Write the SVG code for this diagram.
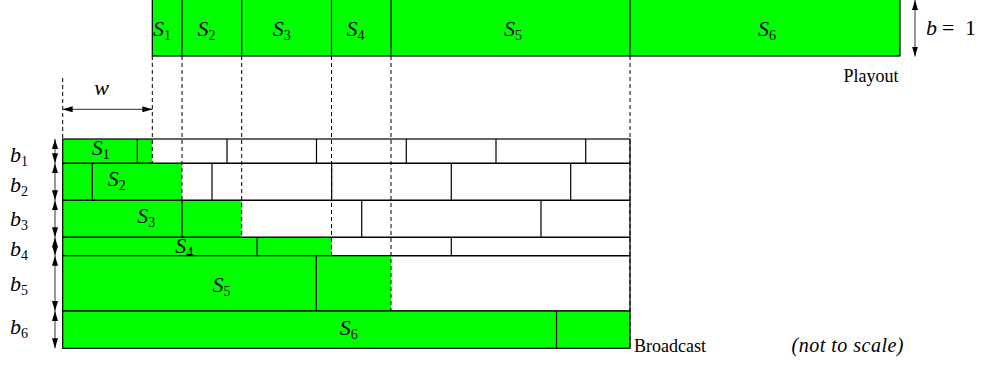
<svg xmlns="http://www.w3.org/2000/svg" width="981" height="366" viewBox="0 0 981 366">
<defs>
<style>
.g{fill:#00ff00;}
.box{fill:none;stroke:#000;stroke-width:1.2;}
.div{stroke:#000;stroke-width:1.2;}
.dash{stroke:#000;stroke-width:1;stroke-dasharray:4 3;fill:none;}
.arr{stroke:#555;stroke-width:1.2;fill:none;marker-start:url(#ah);marker-end:url(#ah);}
.m{font-family:"Liberation Serif","Times New Roman",serif;font-size:22px;font-style:italic;fill:#000;}
.sub{font-style:normal;font-size:14px;}
.t{font-family:"Liberation Serif","Times New Roman",serif;font-size:18px;fill:#000;}
</style>
<marker id="ah" viewBox="0 0 10 6" refX="10" refY="3" markerWidth="10" markerHeight="6" markerUnits="userSpaceOnUse" orient="auto-start-reverse">
<path d="M0,0 L10,3 L0,6 z" fill="#000"/>
</marker>
</defs>

<g id="playout">
<rect class="g" x="152.3" y="-1" width="747.7" height="57"/>
<rect class="box" x="152.3" y="-1" width="747.7" height="57"/>
<line class="div" x1="182" y1="-1" x2="182" y2="56"/>
<line class="div" x1="241.7" y1="-1" x2="241.7" y2="56"/>
<line class="div" x1="331.5" y1="-1" x2="331.5" y2="56"/>
<line class="div" x1="391" y1="-1" x2="391" y2="56"/>
<line class="div" x1="630" y1="-1" x2="630" y2="56"/>
<text class="m" x="162" y="36" text-anchor="middle">S<tspan class="sub" dy="4">1</tspan></text>
<text class="m" x="206.5" y="36" text-anchor="middle">S<tspan class="sub" dy="4">2</tspan></text>
<text class="m" x="281.7" y="36" text-anchor="middle">S<tspan class="sub" dy="4">3</tspan></text>
<text class="m" x="355.5" y="36" text-anchor="middle">S<tspan class="sub" dy="4">4</tspan></text>
<text class="m" x="513" y="36" text-anchor="middle">S<tspan class="sub" dy="4">5</tspan></text>
<text class="m" x="767" y="36" text-anchor="middle">S<tspan class="sub" dy="4">6</tspan></text>
<text class="t" x="843.5" y="81.5">Playout</text>
</g>

<g id="row1">
<rect class="g" x="62.7" y="139" width="89.6" height="24.3"/>
<rect class="box" x="62.7" y="139" width="567.3" height="24.3"/>
<line class="div" x1="137.3" y1="139" x2="137.3" y2="163.3"/>
<line class="div" x1="227" y1="139" x2="227" y2="163.3"/>
<line class="div" x1="316.5" y1="139" x2="316.5" y2="163.3"/>
<line class="div" x1="406.3" y1="139" x2="406.3" y2="163.3"/>
<line class="div" x1="496" y1="139" x2="496" y2="163.3"/>
<line class="div" x1="585.7" y1="139" x2="585.7" y2="163.3"/>
<text class="m" x="100.8" y="155" text-anchor="middle">S<tspan class="sub" dy="4">1</tspan></text>
</g>

<g id="row2">
<rect class="g" x="62.7" y="163.3" width="119.3" height="37"/>
<rect class="box" x="62.7" y="163.3" width="567.3" height="37"/>
<line class="div" x1="92.3" y1="163.3" x2="92.3" y2="200.3"/>
<line class="div" x1="212" y1="163.3" x2="212" y2="200.3"/>
<line class="div" x1="331.7" y1="163.3" x2="331.7" y2="200.3"/>
<line class="div" x1="451.3" y1="163.3" x2="451.3" y2="200.3"/>
<line class="div" x1="570.7" y1="163.3" x2="570.7" y2="200.3"/>
<text class="m" x="116.7" y="185.7" text-anchor="middle">S<tspan class="sub" dy="4">2</tspan></text>
</g>

<g id="row3">
<rect class="g" x="62.7" y="200.3" width="179" height="37"/>
<rect class="box" x="62.7" y="200.3" width="567.3" height="37"/>
<line class="div" x1="182" y1="200.3" x2="182" y2="237.3"/>
<line class="div" x1="361.7" y1="200.3" x2="361.7" y2="237.3"/>
<line class="div" x1="541" y1="200.3" x2="541" y2="237.3"/>
<text class="m" x="146.3" y="223.3" text-anchor="middle">S<tspan class="sub" dy="4">3</tspan></text>
</g>

<g id="row4">
<rect class="g" x="62.7" y="237.3" width="269" height="18.4"/>
<rect class="box" x="62.7" y="237.3" width="567.3" height="18.4"/>
<line class="div" x1="257" y1="237.3" x2="257" y2="255.7"/>
<line class="div" x1="451.3" y1="237.3" x2="451.3" y2="255.7"/>
<text class="m" x="184.2" y="252.7" text-anchor="middle">S<tspan class="sub" dy="4">4</tspan></text>
</g>

<g id="row5">
<rect class="g" x="62.7" y="255.7" width="328.3" height="55.3"/>
<rect class="box" x="62.7" y="255.7" width="567.3" height="55.3"/>
<line class="div" x1="316.3" y1="255.7" x2="316.3" y2="311"/>
<text class="m" x="221.5" y="291.7" text-anchor="middle">S<tspan class="sub" dy="4">5</tspan></text>
</g>

<g id="row6">
<rect class="g" x="62.7" y="311" width="567.3" height="37.3"/>
<rect class="box" x="62.7" y="311" width="567.3" height="37.3"/>
<line class="div" x1="556.5" y1="311" x2="556.5" y2="348.3"/>
<text class="m" x="348.8" y="335" text-anchor="middle">S<tspan class="sub" dy="4">6</tspan></text>
<text class="t" x="634" y="351.7">Broadcast</text>
</g>

<g id="labels">
<text class="m" x="10" y="161.5">b<tspan class="sub" dy="4">1</tspan></text>
<text class="m" x="10" y="191.5">b<tspan class="sub" dy="4">2</tspan></text>
<text class="m" x="10" y="226">b<tspan class="sub" dy="4">3</tspan></text>
<text class="m" x="10" y="256">b<tspan class="sub" dy="4">4</tspan></text>
<text class="m" x="10" y="290.7">b<tspan class="sub" dy="4">5</tspan></text>
<text class="m" x="10" y="334">b<tspan class="sub" dy="4">6</tspan></text>
<text class="m" x="101.7" y="95" text-anchor="middle">w</text>
<text class="m" x="926" y="35">b</text>
<text class="m" x="942" y="35" style="font-style:normal">=</text>
<text class="m" x="965" y="35" style="font-style:normal">1</text>
<text class="t" x="791.5" y="351.7" style="font-style:italic;font-size:20px" textLength="112" lengthAdjust="spacing">(not to scale)</text>
</g>

<g id="connectors">
<line class="dash" x1="62.7" y1="78" x2="62.7" y2="139"/>
<line class="dash" x1="152.3" y1="56" x2="152.3" y2="163.3"/>
<line class="dash" x1="182" y1="56" x2="182" y2="200.3"/>
<line class="dash" x1="241.7" y1="56" x2="241.7" y2="237.3"/>
<line class="dash" x1="331.5" y1="56" x2="331.5" y2="255.7"/>
<line class="dash" x1="391" y1="56" x2="391" y2="311"/>
<line class="dash" x1="630" y1="56" x2="630" y2="348.3"/>
<line class="arr" x1="62.7" y1="109.3" x2="152.3" y2="109.3"/>
<line class="arr" x1="915" y1="0" x2="915" y2="56.5"/>
<line class="arr" x1="55" y1="139" x2="55" y2="163.3"/>
<line class="arr" x1="55" y1="163.3" x2="55" y2="200.3"/>
<line class="arr" x1="55" y1="200.3" x2="55" y2="237.3"/>
<line class="arr" x1="55" y1="237.3" x2="55" y2="255.7"/>
<line class="arr" x1="55" y1="255.7" x2="55" y2="311"/>
<line class="arr" x1="55" y1="311" x2="55" y2="348.3"/>
</g>
</svg>
